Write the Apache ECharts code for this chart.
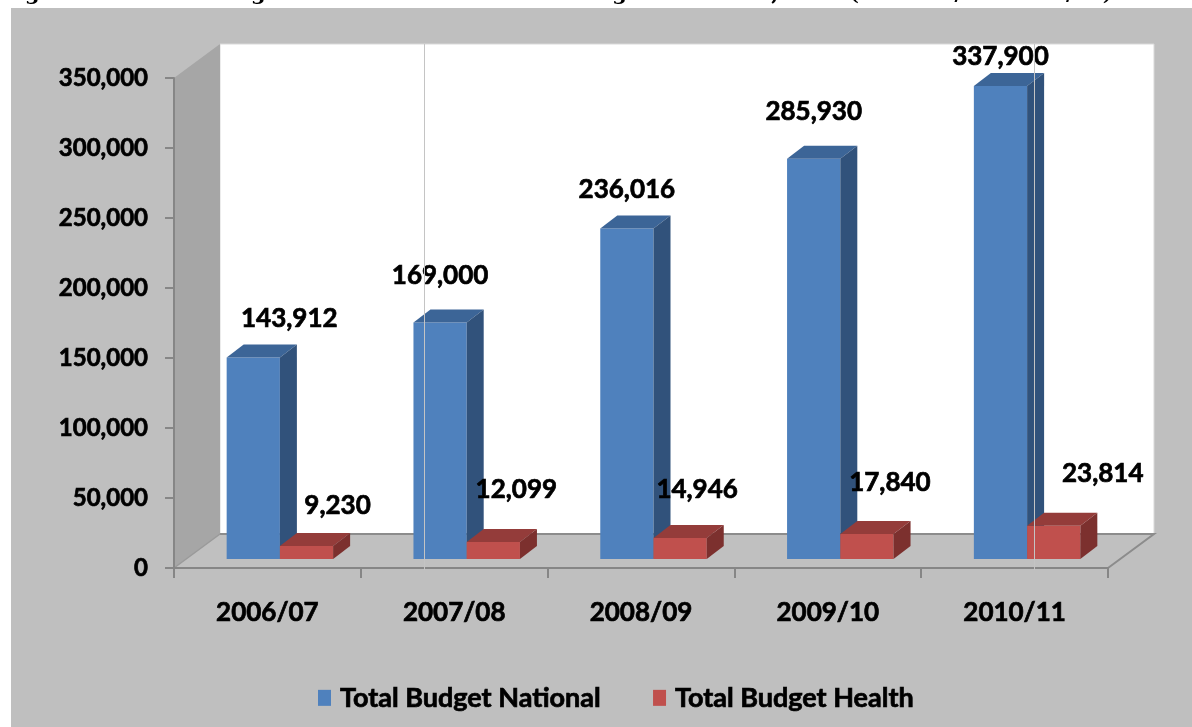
<!DOCTYPE html>
<html>
<head>
<meta charset="utf-8">
<script src="https://cdn.jsdelivr.net/npm/echarts@6/dist/echarts.min.js"></script>
<style>
  html, body { margin: 0; padding: 0; background: #ffffff; }
  #chart { width: 1192px; height: 727px; }
</style>
</head>
<body>
<div id="chart"></div>
<script>
// Fiscal years on the category axis
const fiscalYears = ['2006/07', '2007/08', '2008/09', '2009/10', '2010/11'];
// Budgets in million NRs.
const nationalBudget = [143912, 169000, 236016, 285930, 337900];
const healthBudget = [9230, 12099, 14946, 17840, 23814];
// Value axis ticks
const valueTicks = [0, 50000, 100000, 150000, 200000, 250000, 300000, 350000];
const seriesNames = ['Total Budget National', 'Total Budget Health'];

// Hand-placed label nudges (x, y from the front top edge of each bar)
const nationalLabelNudge = [[36, -39], [0, -47], [0, -39], [0, -47], [0, -29]];
const healthLabelNudge = [[31, -40], [23, -52], [17, -48], [23, -51], [49, -52]];

const fmt = v => v.toLocaleString('en-US');
const FONT = 'Lato, "Open Sans", sans-serif';
// A hairline outline in the text colour gives the heavier strokes of the labels
const heavy = { textBorderColor: '#000', textBorderWidth: 0.7 };

// Oblique projection of the box: full depth and the slab the bars occupy
const DEPTH = [46, -34];
const BAR_FRONT = [12.5, -9];
const BAR_DEPTH = [17, -13];

const palettes = [
  { front: '#4f81bd', top: '#3c6597', side: '#31527b' },
  { front: '#c0504d', top: '#943c3a', side: '#7c302e' }
];

function barRenderer(seriesIdx, nudges) {
  return function (params, api) {
    const idx = api.value(0);
    const val = api.value(1);
    const base = api.coord([idx, 0]);
    const top = api.coord([idx, val]);
    const catW = api.size([1, 0])[0];
    const barW = catW * 0.285;
    const cx = base[0] + BAR_FRONT[0];
    const xL = seriesIdx === 0 ? cx - barW : cx;
    const xR = xL + barW;
    const yb = base[1] + BAR_FRONT[1];
    const yt = top[1] + BAR_FRONT[1];
    const dx = BAR_DEPTH[0], dy = BAR_DEPTH[1];
    const pal = palettes[seriesIdx];
    const nudge = nudges[idx];
    return {
      type: 'group',
      children: [
        { type: 'rect', shape: { x: xL, y: yt, width: barW, height: yb - yt }, style: { fill: pal.front } },
        { type: 'polygon', shape: { points: [[xL, yt], [xR, yt], [xR + dx, yt + dy], [xL + dx, yt + dy]] }, style: { fill: pal.top } },
        { type: 'polygon', shape: { points: [[xR, yt], [xR + dx, yt + dy], [xR + dx, yb + dy], [xR, yb]] }, style: { fill: pal.side } },
        {
          type: 'text',
          x: (xL + xR) / 2 + nudge[0],
          y: yt + nudge[1],
          style: Object.assign({
            text: fmt(val), fill: '#000', align: 'center', verticalAlign: 'middle',
            font: 'bold 26px ' + FONT
          }, { stroke: '#000', lineWidth: 0.7 })
        }
      ]
    };
  };
}

// Walls and floor of the box, built from the grid rectangle
function frameRenderer(params, api) {
  const cs = params.coordSys;
  const x0 = cs.x, x1 = cs.x + cs.width, yT = cs.y, yB = cs.y + cs.height;
  const [dx, dy] = DEPTH;
  return {
    type: 'group',
    children: [
      { type: 'polygon', shape: { points: [[x0 + dx, yT + dy], [x1 + dx, yT + dy], [x1 + dx, yB + dy], [x0 + dx, yB + dy]] },
        style: { fill: '#ffffff', stroke: '#d9d9d9', lineWidth: 1 } },
      { type: 'polygon', shape: { points: [[x0, yT], [x0 + dx, yT + dy], [x0 + dx, yB + dy], [x0, yB]] },
        style: { fill: '#a6a6a6' } },
      { type: 'polygon', shape: { points: [[x0, yB], [x1, yB], [x1 + dx, yB + dy], [x0 + dx, yB + dy]] },
        style: { fill: '#c0c0c0' } },
      { type: 'polyline', shape: { points: [[x0 + dx, yB + dy], [x1 + dx, yB + dy], [x1, yB]] },
        style: { stroke: '#8c8c8c', lineWidth: 2, fill: null } },
      { type: 'line', shape: { x1: x0, y1: yB, x2: x0 + dx, y2: yB + dy },
        style: { stroke: '#9a9a9a', lineWidth: 1.5 } }
    ]
  };
}

const chart = echarts.init(document.getElementById('chart'), null, { renderer: 'canvas' });

chart.setOption({
  backgroundColor: '#ffffff',
  animation: false,
  graphic: [
    {
      type: 'text', left: 2, top: -16, z: -200,
      style: {
        text: 'Figure 2: Health Budget as a Share of National Budget in million, NRs. (FY 2006/07- 2010/11)',
        font: 'bold 21px "DejaVu Serif", serif', fill: '#000'
      }
    },
    { type: 'rect', shape: { x: 11, y: 8, width: 1200, height: 740 }, style: { fill: '#bfbfbf' }, z: -100 },
    { type: 'line', shape: { x1: 424.5, y1: 44, x2: 424.5, y2: 570 }, style: { stroke: '#c4c4c4', lineWidth: 1 }, z: 100 },
    { type: 'line', shape: { x1: 1034.5, y1: 44, x2: 1034.5, y2: 570 }, style: { stroke: '#c4c4c4', lineWidth: 1 }, z: 100 }
  ],
  grid: { left: 174, right: 84, top: 78, bottom: 159, containLabel: false },
  legend: {
    left: 313, top: 679, itemWidth: 13, itemHeight: 16, itemGap: 52,
    icon: 'rect',
    data: seriesNames,
    textStyle: Object.assign({ fontFamily: FONT, fontWeight: 'bold', fontSize: 27, color: '#000', padding: [0, 0, 0, 4] }, heavy)
  },
  xAxis: {
    type: 'category',
    data: fiscalYears,
    boundaryGap: true,
    axisLine: { show: true, lineStyle: { color: '#868686', width: 2 } },
    axisTick: { show: true, length: 10, interval: 0, lineStyle: { color: '#868686', width: 2 } },
    axisLabel: Object.assign({ margin: 32, fontFamily: FONT, fontWeight: 'bold', fontSize: 26, color: '#000' }, heavy),
    splitLine: { show: false }
  },
  yAxis: {
    type: 'value',
    min: valueTicks[0],
    max: valueTicks[valueTicks.length - 1],
    interval: valueTicks[1] - valueTicks[0],
    axisLine: { show: true, lineStyle: { color: '#868686', width: 2 } },
    axisTick: { show: true, length: 9, lineStyle: { color: '#868686', width: 2 } },
    axisLabel: Object.assign({ margin: 26, fontFamily: FONT, fontWeight: 'bold', fontSize: 24, color: '#000', formatter: v => fmt(v) }, heavy),
    splitLine: { show: false }
  },
  series: [
    {
      type: 'custom', name: 'frame', z: -50, silent: true,
      renderItem: frameRenderer,
      data: [[0, 0]],
      encode: { x: 0, y: 1 }
    },
    {
      type: 'custom', name: seriesNames[0], z: 2,
      itemStyle: { color: palettes[0].front },
      renderItem: barRenderer(0, nationalLabelNudge),
      data: nationalBudget.map((v, i) => [i, v]),
      encode: { x: 0, y: 1 }
    },
    {
      type: 'custom', name: seriesNames[1], z: 3,
      itemStyle: { color: palettes[1].front },
      renderItem: barRenderer(1, healthLabelNudge),
      data: healthBudget.map((v, i) => [i, v]),
      encode: { x: 0, y: 1 }
    }
  ]
});
</script>
</body>
</html>
